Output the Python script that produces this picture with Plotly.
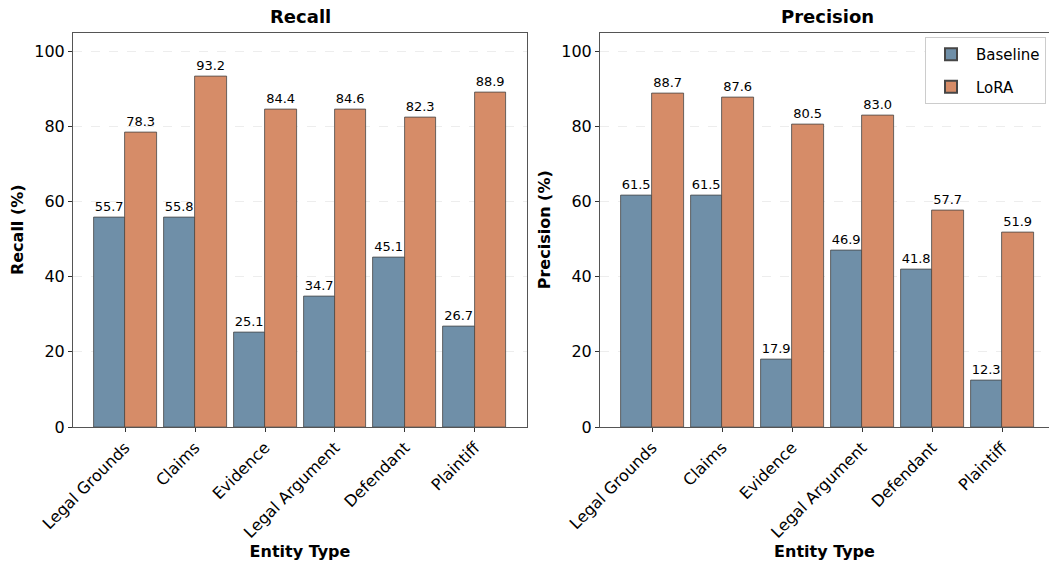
import plotly.graph_objects as go

categories = ["Legal Grounds", "Claims", "Evidence", "Legal Argument", "Defendant", "Plaintiff"]
recall_baseline = [55.7, 55.8, 25.1, 34.7, 45.1, 26.7]
recall_lora = [78.3, 93.2, 84.4, 84.6, 82.3, 88.9]
precision_baseline = [61.5, 61.5, 17.9, 46.9, 41.8, 12.3]
precision_lora = [88.7, 87.6, 80.5, 83.0, 57.7, 51.9]
y_ticks = [0, 20, 40, 60, 80, 100]

W, H = 1049, 561
FONT = "DejaVu Sans"
C_BASE = "rgb(111,143,168)"
C_LORA = "rgb(214,140,104)"
EDGE = "rgb(70,70,70)"
idx = list(range(len(categories)))

fig = go.Figure()

def add_bars(vals, name, color, offset, xa, ya, showlegend):
    fig.add_trace(go.Bar(
        x=idx, y=vals, name=name, offset=offset, width=0.45,
        marker=dict(color=color, line=dict(color=EDGE, width=0.8)),
        text=[f"{v:.1f}" for v in vals], textposition="outside",
        textfont=dict(family=FONT, size=13, color="black"),
        constraintext="none", cliponaxis=False,
        xaxis=xa, yaxis=ya, showlegend=showlegend, legendgroup=name,
    ))

add_bars(recall_baseline, "Baseline", C_BASE, -0.45, "x", "y", False)
add_bars(recall_lora, "LoRA", C_LORA, 0.0, "x", "y", False)
add_bars(precision_baseline, "Baseline", C_BASE, -0.45, "x2", "y2", True)
add_bars(precision_lora, "LoRA", C_LORA, 0.0, "x2", "y2", True)

y0 = (H - 427) / H
y1 = (H - 32.5) / H
lx0, lx1 = 73 / W, 527 / W
rx0, rx1 = 600 / W, 1.0
# right panel is clipped at image edge: keep 70 px per category unit
r_right = -0.745 + (W - 600) / 70.0

axis_common = dict(
    tickmode="array", tickvals=idx, ticktext=categories, tickangle=-45,
    ticks="outside", ticklen=4, tickcolor="#333", tickwidth=1,
    showline=True, linecolor="#555", linewidth=1, mirror=True,
    showgrid=False, zeroline=False, automargin=False,
    tickfont=dict(family=FONT, size=16, color="black"),
    title=dict(text="<b>Entity Type</b>", font=dict(family=FONT, size=16, color="black"), standoff=8),
)
yaxis_common = dict(
    range=[0, 105], tickvals=y_ticks, ticks="outside", ticklen=4, tickcolor="#333",
    showline=True, linecolor="#555", linewidth=1,
    showgrid=True, gridcolor="#ededed", griddash="dash", gridwidth=1,
    zeroline=False, automargin=False, tickfont=dict(family=FONT, size=16, color="black"),
    domain=[y0, y1],
)

fig.update_layout(
    width=W, height=H, margin=dict(l=0, r=0, t=0, b=0),
    plot_bgcolor="white", paper_bgcolor="white",
    bargap=0,
    xaxis=dict(axis_common, domain=[lx0, lx1], range=[-0.745, 5.745], anchor="y"),
    xaxis2=dict(axis_common, domain=[rx0, rx1], range=[-0.745, r_right], anchor="y2"),
    yaxis=dict(yaxis_common, anchor="x", mirror=True,
               title=dict(text="<b>Recall (%)</b>", font=dict(family=FONT, size=16, color="black"), standoff=6)),
    yaxis2=dict(yaxis_common, anchor="x2", mirror=False,
                title=dict(text="<b>Precision (%)</b>", font=dict(family=FONT, size=16, color="black"), standoff=6)),
    legend=dict(x=1046 / W, y=(H - 37) / H, xanchor="right", yanchor="top",
                bgcolor="white", bordercolor="#cccccc", borderwidth=1,
                font=dict(family=FONT, size=15, color="black"),
                itemsizing="constant", itemwidth=40),
    annotations=[
        dict(text="<b>Recall</b>", x=(lx0 + lx1) / 2, y=(H - 16) / H, xref="paper", yref="paper",
             showarrow=False, xanchor="center", yanchor="middle",
             font=dict(family=FONT, size=18, color="black")),
        dict(text="<b>Precision</b>", x=(600 + 454 / 2) / W, y=(H - 16) / H, xref="paper", yref="paper",
             showarrow=False, xanchor="center", yanchor="middle",
             font=dict(family=FONT, size=18, color="black")),
    ],
)

fig.write_html("out.html", config={"displayModeBar": False},
               post_script="document.body.style.margin='0px';document.body.style.overflow='hidden';")
